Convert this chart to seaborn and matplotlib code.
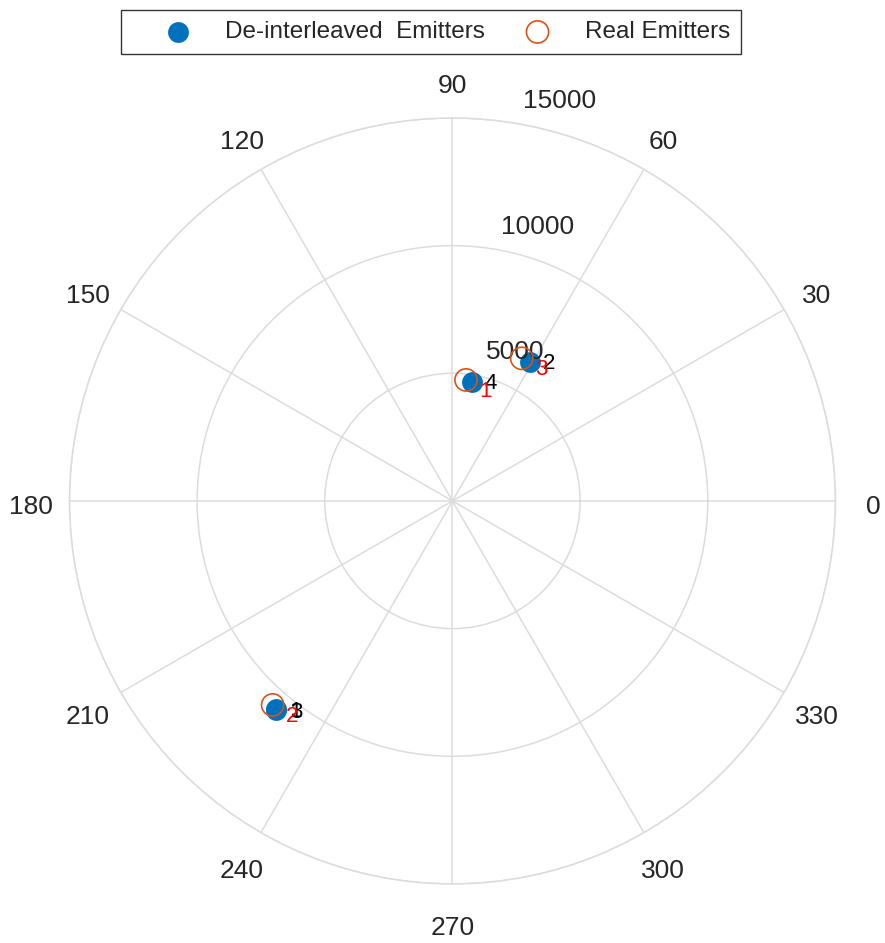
import numpy as np
import pandas as pd
import matplotlib
matplotlib.use("Agg")
import matplotlib.pyplot as plt
import seaborn as sns

# De-interleaved emitters (id, azimuth in degrees, range)
deint_ids = ["1", "2", "3", "4"]
deint_theta = [229.7, 60.9, 229.9, 80.9]
deint_r = [10690, 6240, 10700, 4730]

# Real emitters
real_ids = ["1", "2", "3"]
real_theta = [83.6, 228.6, 64.1]
real_r = [4770, 10650, 6210]

r_ticks = [5000, 10000, 15000]
r_max = 15000
theta_ticks = list(range(0, 360, 30))

blue = "#0072BD"
orange = "#D95319"
grid_col = "#dcdcdc"
txt_col = "#262626"

sns.set_style("white")
plt.rcParams["font.family"] = ["Liberation Sans", "DejaVu Sans"]

deint = pd.DataFrame({"id": deint_ids, "theta": np.deg2rad(deint_theta), "r": deint_r})
real = pd.DataFrame({"id": real_ids, "theta": np.deg2rad(real_theta), "r": real_r})

fig = plt.figure(figsize=(8.85, 9.43), dpi=100)
ax = fig.add_axes([0.0785, 0.0626, 0.8655, 0.8123], projection="polar")

sns.scatterplot(data=deint, x="theta", y="r", ax=ax, color=blue, s=225,
                edgecolor=blue, linewidth=0, label="De-interleaved  Emitters", zorder=3)
sns.scatterplot(data=real, x="theta", y="r", ax=ax, marker="o", s=256,
                facecolor="none", edgecolor=orange, linewidth=1.2,
                label="Real Emitters", zorder=4)

# point labels
for _, row in deint.iterrows():
    ax.annotate(row["id"], (row["theta"], row["r"]), xytext=(14, -1.5),
                textcoords="offset points", ha="center", va="center",
                fontsize=16, color="black", zorder=5)
for _, row in real.iterrows():
    ax.annotate(row["id"], (row["theta"], row["r"]), xytext=(14, -8),
                textcoords="offset points", ha="center", va="center",
                fontsize=16, color="red", zorder=5)

ax.set_ylim(0, r_max)
ax.set_yticks(r_ticks)
ax.set_yticklabels([])
ax.set_thetagrids(theta_ticks, [""] * len(theta_ticks))
ax.grid(True, color=grid_col, linewidth=1.1)
ax.spines["polar"].set_color(grid_col)
ax.spines["polar"].set_linewidth(1.1)
ax.set_xlabel("")
ax.set_ylabel("")

# angle labels outside the outer ring
pad = 27.4
for t in theta_ticks:
    a = np.deg2rad(t)
    ax.annotate(str(t), (a, r_max), xytext=(pad * np.cos(a), pad * np.sin(a) - 4.2),
                textcoords="offset points", ha="center", va="center",
                fontsize=19, color=txt_col, annotation_clip=False)

# radial tick labels near 80 deg
for t in r_ticks:
    ax.annotate(str(t), (np.deg2rad(80), t), xytext=(29, 16.5),
                textcoords="offset points", ha="center", va="center",
                fontsize=19, color=txt_col, annotation_clip=False)

ax.get_legend().remove()
handles, labels = ax.get_legend_handles_labels()
leg = fig.legend(handles, labels, loc="upper center", bbox_to_anchor=(0.487, 0.989),
                 ncol=2, fontsize=17.5, frameon=True, fancybox=False,
                 edgecolor="black", borderaxespad=0, borderpad=0.45,
                 handlelength=3.8, handletextpad=0.05, columnspacing=0.25,
                 markerscale=1.0)
leg.get_frame().set_linewidth(1.0)

fig.savefig("out.png", dpi=100)
